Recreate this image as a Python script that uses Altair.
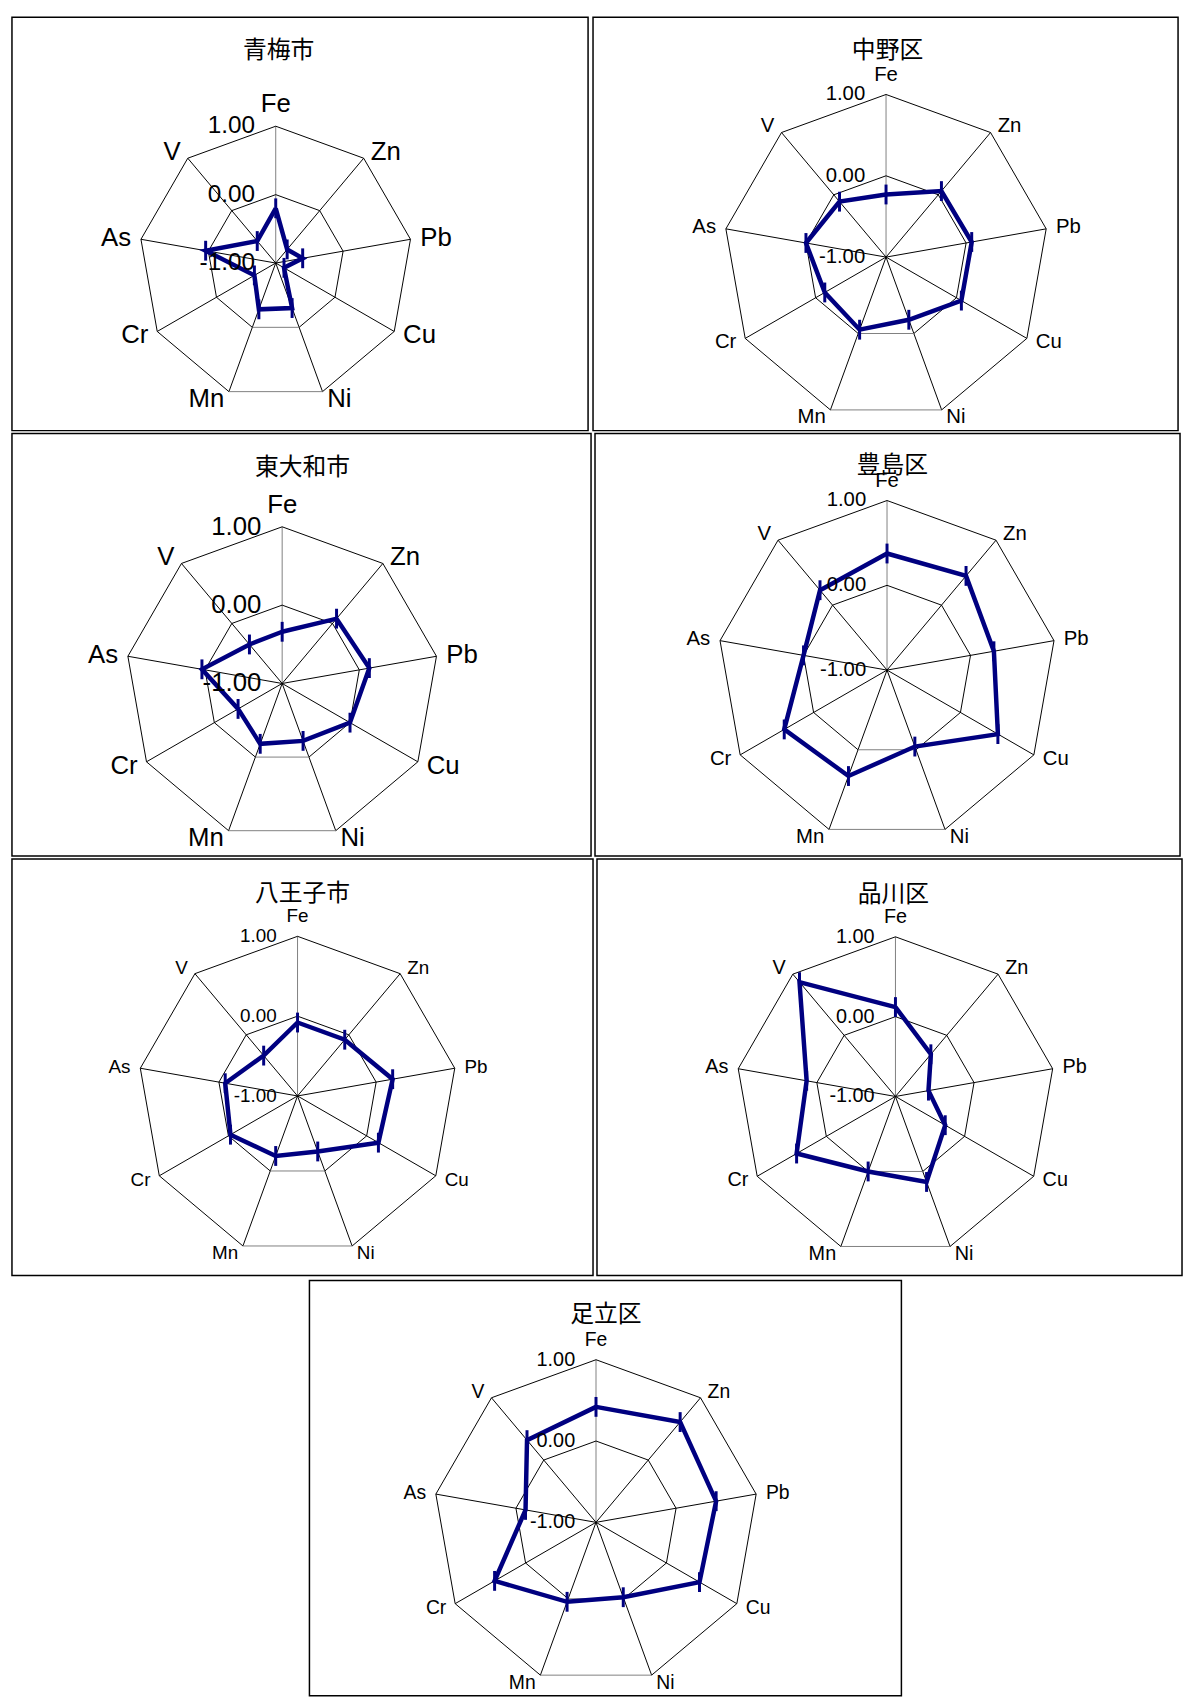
import altair as alt
import numpy as np
import pandas as pd

# ---------------- data ----------------
elements = ["Fe", "Zn", "Pb", "Cu", "Ni", "Mn", "Cr", "As", "V"]
cities = ["青梅市", "中野区", "東大和市", "豊島区", "八王子市", "品川区", "足立区"]
ome = [-0.20, -0.74, -0.60, -0.86, -0.30, -0.28, -0.64, 0.04, -0.58]
nakano = [-0.23, 0.06, 0.07, 0.07, -0.18, -0.05, -0.13, 0.00, -0.11]
higashiyamato = [-0.34, 0.08, 0.13, 0.00, -0.22, -0.18, -0.35, 0.04, -0.35]
toshima = [0.375, 0.45, 0.28, 0.51, -0.04, 0.33, 0.40, 0.00, 0.23]
hachioji = [-0.08, -0.08, 0.21, 0.17, -0.26, -0.20, -0.03, -0.08, -0.34]
shinagawa = [0.12, -0.31, -0.58, -0.28, 0.14, 0.00, 0.43, 0.13, 0.87]
adachi = [0.42, 0.61, 0.50, 0.47, -0.02, 0.04, 0.44, -0.12, 0.32]
series = [ome, nakano, higashiyamato, toshima, hachioji, shinagawa, adachi]
tick_values = [1.0, 0.0, -1.0]
tick_labels = ["1.00", "0.00", "-1.00"]
scale_min, scale_max = -1.0, 1.0

# ---------------- layout / style ----------------
layouts = [
    dict(w=581, h=417, cx=266, cy=248, r=138, lab=26, tick=24.5, tx=269, ty=34),
    dict(w=590, h=417, cx=295.5, cy=242, r=164, lab=20.5, tick=20.5, tx=297, ty=34),
    dict(w=584, h=426, cx=272.5, cy=252, r=158, lab=26, tick=26, tx=293, ty=35),
    dict(w=590, h=426, cx=294.5, cy=238.5, r=171, lab=20.5, tick=20.5, tx=300, ty=33),
    dict(w=586, h=420, cx=288, cy=239, r=161, lab=19, tick=19, tx=293, ty=35),
    dict(w=590, h=420, cx=301, cy=239.5, r=161, lab=20, tick=20, tx=299, ty=36),
    dict(w=597, h=419, cx=289, cy=244, r=164, lab=19.5, tick=20, tx=299, ty=35),
]
NAVY = "#000080"
LATIN = "Liberation Sans"
CJK = "Noto Sans CJK JP"

n = len(elements)
ang = np.deg2rad(90 - 360.0 / n * np.arange(n))
cs, sn = np.cos(ang), np.sin(ang)


def frac(v):
    return (np.asarray(v, dtype=float) - scale_min) / (scale_max - scale_min)


def make_panel(name, vals, L):
    R = L["r"]
    xs = alt.Scale(domain=[-L["cx"] / R, (L["w"] - L["cx"]) / R], nice=False, zero=False)
    ys = alt.Scale(domain=[-(L["h"] - L["cy"]) / R, L["cy"] / R], nice=False, zero=False)

    # grid: spokes + rings
    rows = []
    for k in range(n):
        rows.append(dict(x=0.0, y=0.0, x2=cs[k], y2=sn[k],
                         col="#808080" if k == 0 else "#000000"))
    ring_r = sorted(set(float(f) for f in frac(tick_values) if f > 0))
    for f in ring_r:
        for k in range(n):
            j = (k + 1) % n
            y1, y2 = f * sn[k], f * sn[j]
            rows.append(dict(x=f * cs[k], y=y1, x2=f * cs[j], y2=y2,
                             col="#808080" if abs(y1 - y2) < 1e-9 else "#000000"))
    gdf = pd.DataFrame(rows)
    grid = alt.Chart(gdf).mark_rule(strokeWidth=1).encode(
        x=alt.X("x:Q", scale=xs, axis=None),
        y=alt.Y("y:Q", scale=ys, axis=None),
        x2="x2:Q", y2="y2:Q",
        color=alt.Color("col:N", scale=None),
    )

    # series
    fr = frac(vals)
    sdf = pd.DataFrame(dict(i=np.arange(n), el=elements, v=vals,
                            x=fr * cs, y=fr * sn))
    closed = pd.concat([sdf, sdf.iloc[[0]].assign(i=n)], ignore_index=True)
    line = alt.Chart(closed).mark_line(color=NAVY, strokeWidth=4.5, strokeJoin="miter").encode(
        x=alt.X("x:Q", scale=xs, axis=None),
        y=alt.Y("y:Q", scale=ys, axis=None),
        order="i:Q",
    )
    ticks = alt.Chart(sdf).mark_tick(orient="vertical", size=20, thickness=3, color=NAVY,
                                     opacity=1).encode(
        x=alt.X("x:Q", scale=xs, axis=None),
        y=alt.Y("y:Q", scale=ys, axis=None),
    )

    # category labels
    pad = 8.0
    lrows = []
    for k in range(n):
        if cs[k] > 0.2:
            al = "left"
        elif cs[k] < -0.2:
            al = "right"
        else:
            al = "center"
        if al == "center":
            lx, ly = 0.0, 1.0 + 14.0 / R
        else:
            lx, ly = cs[k] * (1 + pad / R), sn[k] * (1 + pad / R)
        lrows.append(dict(el=elements[k], lx=lx, ly=ly, al=al))
    ldf = pd.DataFrame(lrows)
    lab_layers = []
    for al, base, dx in [("left", "middle", 2), ("right", "middle", -2), ("center", "alphabetic", 0)]:
        sub = ldf[ldf.al == al]
        lab_layers.append(
            alt.Chart(sub).mark_text(align=al, baseline=base, dx=dx, font=LATIN,
                                     fontSize=L["lab"], color="black").encode(
                x=alt.X("lx:Q", scale=xs, axis=None),
                y=alt.Y("ly:Q", scale=ys, axis=None),
                text="el:N",
            )
        )

    # value labels along Fe axis
    tdf = pd.DataFrame(dict(t=tick_labels, x=[0.0] * len(tick_values), y=frac(tick_values)))
    tlab = alt.Chart(tdf).mark_text(align="right", baseline="middle", dx=-21, font=LATIN,
                                    fontSize=L["tick"], color="black").encode(
        x=alt.X("x:Q", scale=xs, axis=None),
        y=alt.Y("y:Q", scale=ys, axis=None),
        text="t:N",
    )

    title = alt.Chart(pd.DataFrame(dict(t=[name]))).mark_text(
        align="center", baseline="middle", font=CJK, fontSize=24, color="black").encode(
        x=alt.value(L["tx"]), y=alt.value(L["ty"]), text="t:N")

    return alt.layer(grid, line, ticks, *lab_layers, tlab, title).properties(
        width=L["w"], height=L["h"])


panels = [make_panel(c, s, L) for c, s, L in zip(cities, series, layouts)]

# invisible spacer to push the last panel towards the middle
spacer = alt.Chart(pd.DataFrame(dict(a=[0]))).mark_point(opacity=0).encode(
    x=alt.value(0), y=alt.value(0)
).properties(width=299, height=layouts[6]["h"], view=alt.ViewBackground(stroke=None))

row1 = alt.hconcat(panels[0], panels[1], spacing=3)
row2 = alt.hconcat(panels[2], panels[3], spacing=2)
row3 = alt.hconcat(panels[4], panels[5], spacing=2)
row4 = alt.hconcat(spacer, panels[6], spacing=0)
chart = alt.vconcat(row1, row2, row3, row4, spacing=1).properties(
    padding={"left": 1, "top": 1, "right": 1, "bottom": 1}
).configure_view(stroke="black", strokeWidth=1.5)

chart.save("out.html", embed_options={"renderer": "svg", "actions": False})
